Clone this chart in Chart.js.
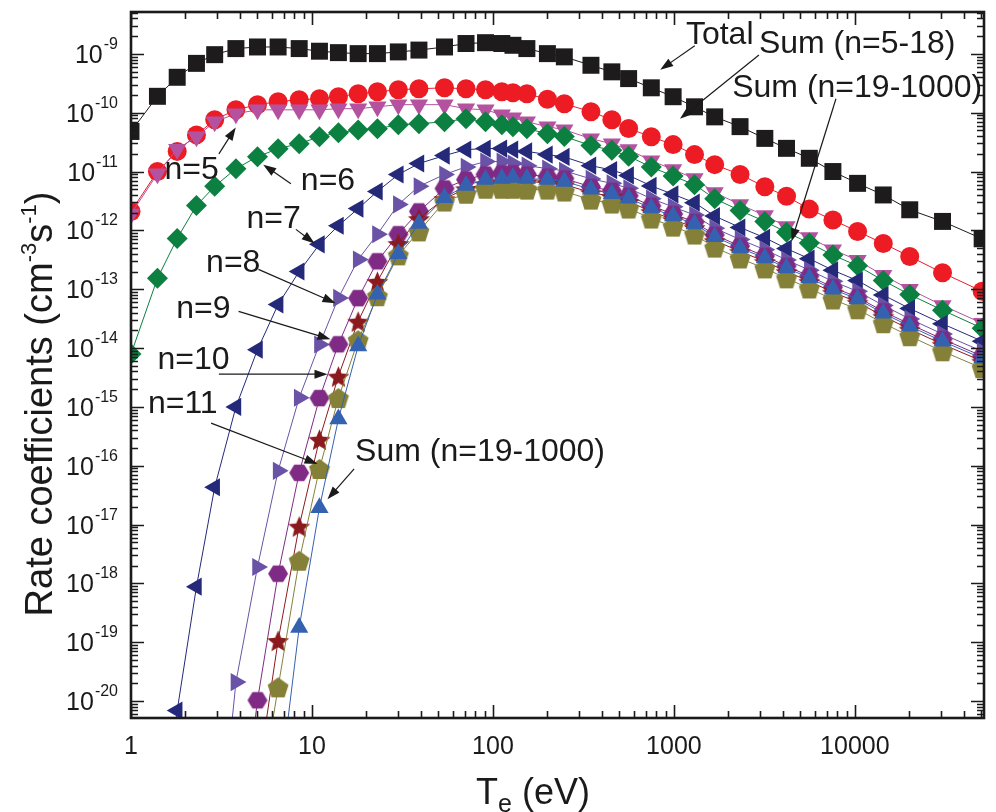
<!DOCTYPE html>
<html>
<head>
<meta charset="utf-8">
<title>Rate coefficients</title>
<script src="https://cdn.jsdelivr.net/npm/chart.js@4.4.1/dist/chart.umd.min.js"></script>
<style>
  html, body { margin: 0; padding: 0; background: #fff; }
  #wrap { width: 996px; height: 812px; }
</style>
</head>
<body>
<div id="wrap"><canvas id="rateChart" width="996" height="812"></canvas></div>
<script>
// electron temperature grid (eV)
const TE = [1, 1.4, 1.8, 2.3, 2.9, 3.8, 5, 6.5, 8.5, 11, 14, 18, 23, 30, 39, 54, 71, 91, 112, 129,
  154, 200, 248, 348, 454, 562, 750, 990, 1300, 1680, 2320, 3180, 4190, 5600, 7560, 10350, 14350, 20100, 30500, 50500];

// rate coefficients (cm^3 s^-1), one entry per TE point
const total = [4.8e-11, 1.9e-10, 4.0e-10, 6.9e-10, 9.7e-10, 1.23e-9, 1.31e-9, 1.31e-9, 1.23e-9, 1.11e-9,
  1.05e-9, 1.01e-9, 1.01e-9, 1.08e-9, 1.16e-9, 1.31e-9, 1.5e-9, 1.55e-9, 1.5e-9, 1.4e-9,
  1.23e-9, 1.01e-9, 8.9e-10, 6.4e-10, 4.95e-10, 3.8e-10, 2.65e-10, 1.87e-10, 1.26e-10, 8.5e-11,
  5.8e-11, 3.66e-11, 2.48e-11, 1.68e-11, 1.0e-11, 6.3e-12, 4.0e-12, 2.24e-12, 1.42e-12, 7.2e-13];
const sum5to18 = [2.1e-12, 1.0e-11, 2.2e-11, 4.2e-11, 7.6e-11, 1.12e-10, 1.37e-10, 1.54e-10, 1.66e-10, 1.73e-10,
  1.87e-10, 2.1e-10, 2.27e-10, 2.46e-10, 2.55e-10, 2.65e-10, 2.55e-10, 2.46e-10, 2.27e-10, 2.18e-10,
  2.1e-10, 1.69e-10, 1.42e-10, 1.04e-10, 7.6e-11, 5.4e-11, 3.9e-11, 2.87e-11, 1.94e-11, 1.31e-11,
  8.9e-12, 5.5e-12, 3.8e-12, 2.3e-12, 1.5e-12, 9.6e-13, 6.0e-13, 3.6e-13, 1.9e-13, 9.2e-14];
const n5 = [1.9e-12, 9.2e-12, 2.4e-11, 3.9e-11, 7.0e-11, 9.6e-11, 1.12e-10, 1.12e-10, 1.12e-10, 1.12e-10,
  1.17e-10, 1.17e-10, 1.26e-10, 1.37e-10, 1.37e-10, 1.37e-10, 1.17e-10, 1.12e-10, 9.25e-11, 8.2e-11,
  7.0e-11, 5.8e-11, 5.14e-11, 3.61e-11, 2.97e-11, 2.36e-11, 1.53e-11, 1.08e-11, 7.6e-12, 4.4e-12,
  2.75e-12, 1.79e-12, 1.16e-12, 7.6e-13, 4.7e-13, 3.1e-13, 1.72e-13, 9.95e-14, 5.3e-14, 2.64e-14];
const n6 = [7.9e-15, 1.53e-13, 7.3e-13, 2.64e-12, 5.6e-12, 1.12e-11, 1.79e-11, 2.45e-11, 2.98e-11, 3.9e-11,
  4.57e-11, 5.1e-11, 5.35e-11, 6.25e-11, 6.5e-11, 7.0e-11, 7.9e-11, 7.0e-11, 6.25e-11, 5.8e-11,
  5.35e-11, 4.41e-11, 3.93e-11, 2.77e-11, 2.29e-11, 1.82e-11, 1.19e-11, 8.4e-12, 5.97e-12, 3.46e-12,
  2.17e-12, 1.42e-12, 9.3e-13, 6.1e-13, 3.8e-13, 2.5e-13, 1.4e-13, 8.1e-14, 4.4e-14, 2.17e-14];
const n7 = [null, 2e-23, 6.9e-21, 8.8e-19, 4.3e-17, 1.0e-15, 9.4e-15, 5.5e-14, 2.0e-13, 5.8e-13,
  1.2e-12, 2.35e-12, 4.6e-12, 8.9e-12, 1.37e-11, 1.87e-11, 2.36e-11, 2.46e-11, 2.46e-11, 2.36e-11,
  2.2e-11, 1.94e-11, 1.77e-11, 1.26e-11, 1.06e-11, 8.6e-12, 5.7e-12, 4.1e-12, 2.96e-12, 1.75e-12,
  1.12e-12, 7.5e-13, 4.9e-13, 3.3e-13, 2.1e-13, 1.4e-13, 7.96e-14, 4.7e-14, 2.58e-14, 1.31e-14];
const n8 = [null, null, null, null, 5e-24, 2.1e-20, 1.9e-18, 8.2e-17, 1.43e-15, 1.15e-14,
  7.1e-14, 3.2e-13, 8.6e-13, 2.76e-12, 5.6e-12, 8.9e-12, 1.2e-11, 1.48e-11, 1.48e-11, 1.37e-11,
  1.26e-11, 1.12e-11, 1.03e-11, 7.5e-12, 6.3e-12, 5.2e-12, 3.46e-12, 2.51e-12, 1.82e-12, 1.09e-12,
  7.0e-13, 4.7e-13, 3.15e-13, 2.11e-13, 1.36e-13, 9.2e-14, 5.3e-14, 3.13e-14, 1.73e-14, 8.8e-15];
const n9 = [null, null, null, null, null, 1e-23, 1.03e-20, 1.46e-18, 7.56e-17, 1.41e-15,
  1.16e-14, 7.05e-14, 2.98e-13, 8.6e-13, 2.1e-12, 5.15e-12, 7.3e-12, 8.9e-12, 9.3e-12, 9.3e-12,
  8.9e-12, 8.2e-12, 7.6e-12, 5.5e-12, 4.7e-12, 3.87e-12, 2.61e-12, 1.9e-12, 1.39e-12, 8.4e-13,
  5.4e-13, 3.66e-13, 2.47e-13, 1.67e-13, 1.08e-13, 7.3e-14, 4.2e-14, 2.55e-14, 1.42e-14, 7.3e-15];
const n10 = [null, null, null, null, null, null, 4.6e-22, 1.07e-19, 9.4e-18, 2.81e-16,
  3.33e-15, 2.86e-14, 1.36e-13, 6.0e-13, 1.59e-12, 3.47e-12, 5.1e-12, 6.2e-12, 6.7e-12, 7.0e-12,
  6.7e-12, 6.5e-12, 6.0e-12, 4.4e-12, 3.76e-12, 3.1e-12, 2.09e-12, 1.53e-12, 1.12e-12, 6.7e-13,
  4.4e-13, 2.97e-13, 2.0e-13, 1.36e-13, 8.9e-14, 6.0e-14, 3.47e-14, 2.09e-14, 1.16e-14, 5.98e-15];
const n11 = [null, null, null, null, null, null, 1.2e-22, 1.71e-20, 2.43e-18, 8.8e-17,
  1.41e-15, 1.36e-14, 7.6e-14, 3.76e-13, 9.6e-13, 3.09e-12, 4.2e-12, 5.1e-12, 5.1e-12, 5.1e-12,
  4.94e-12, 4.94e-12, 4.57e-12, 3.34e-12, 2.86e-12, 2.35e-12, 1.59e-12, 1.16e-12, 8.5e-13, 5.1e-13,
  3.33e-13, 2.26e-13, 1.53e-13, 1.03e-13, 6.7e-14, 4.56e-14, 2.64e-14, 1.59e-14, 8.8e-15, 4.55e-15];
const sum19to1000 = [null, null, null, null, null, null, null, 2.1e-22, 1.78e-19, 1.93e-17,
  6.2e-16, 1.08e-14, 8.2e-14, 4.0e-13, 1.31e-12, 3.6e-12, 5.8e-12, 7.3e-12, 7.6e-12, 7.9e-12,
  7.6e-12, 7.3e-12, 6.8e-12, 5.0e-12, 4.2e-12, 3.5e-12, 2.4e-12, 1.75e-12, 1.28e-12, 7.8e-13,
  5.0e-13, 3.4e-13, 2.3e-13, 1.55e-13, 1.0e-13, 6.8e-14, 3.9e-14, 2.35e-14, 1.3e-14, 6.7e-15];

// axis ranges and tick labels
const X_RANGE = [1, 51700];
const Y_RANGE = [5.15e-21, 5.15e-9];
const X_TICK_LABELS = ['1', '10', '100', '1000', '10000'];
const Y_TICK_EXPONENTS = [-9, -10, -11, -12, -13, -14, -15, -16, -17, -18, -19, -20];

// labels with arrows, in data coordinates: [T_e, rate]
const notes = [
  { text: 'Total', at: [1165, 1.48e-9], from: [1304, 1.37e-9], to: [840, 5.36e-10] },
  { text: 'Sum (n=5-18)', at: [2950, 1.04e-9], from: [2950, 9.6e-10], to: [1080, 7.9e-11] },
  { text: 'Sum (n=19-1000)', at: [2100, 1.87e-10], from: [7860, 1.73e-10], to: [4465, 6.5e-13] },
  { text: 'n=5', at: [1.53, 7.6e-12], from: [3.06, 2.0e-11], to: [3.79, 5.6e-11] },
  { text: 'n=6', at: [8.68, 4.94e-12], from: [7.65, 6.2e-12], to: [5.38, 1.31e-11] },
  { text: 'n=7', at: [4.35, 1.08e-12], from: [8.15, 1.04e-12], to: [10.35, 6.0e-13] },
  { text: 'n=8', at: [2.6, 2.0e-13], from: [5.06, 2.17e-13], to: [13.5, 5.8e-14] },
  { text: 'n=9', at: [1.78, 3.2e-14], from: [3.93, 4.2e-14], to: [12.65, 1.41e-14] },
  { text: 'n=10', at: [1.4, 4.4e-15], from: [3.06, 3.6e-15], to: [12.18, 3.6e-15] },
  { text: 'n=11', at: [1.24, 7.9e-16], from: [2.77, 5.3e-16], to: [10.74, 1.07e-16] },
  { text: 'Sum (n=19-1000)', at: [17.3, 1.2e-16], from: [17.1, 8.8e-17], to: [12.18, 2.7e-17] }
];

const FONT = "'Liberation Sans', Arial, Helvetica, sans-serif";

// filled polygon markers that Chart.js has no built-in style for
function polyMarker(kind, radius, color) {
  const size = Math.ceil(radius * 2 + 2);
  const c = document.createElement('canvas');
  c.width = size;
  c.height = size;
  const g = c.getContext('2d');
  const cx = size / 2, cy = size / 2;
  g.fillStyle = color;
  g.beginPath();
  if (kind === 'hexagon') {
    for (let i = 0; i < 6; i++) {
      const a = Math.PI / 3 * i;
      g.lineTo(cx + radius * Math.cos(a), cy + radius * 0.95 * Math.sin(a));
    }
  } else if (kind === 'pentagon') {
    for (let i = 0; i < 5; i++) {
      const a = -Math.PI / 2 + 2 * Math.PI / 5 * i;
      g.lineTo(cx + radius * Math.cos(a), cy + 1 + radius * Math.sin(a));
    }
  } else {
    for (let i = 0; i < 10; i++) {
      const a = -Math.PI / 2 + Math.PI / 5 * i;
      const r = i % 2 ? radius * 0.45 : radius;
      g.lineTo(cx + r * Math.cos(a), cy + 1.5 + r * Math.sin(a));
    }
  }
  g.closePath();
  g.fill();
  return c;
}

const series = [
  { label: 'Total', data: total, color: '#1d1b1c', style: 'rect', radius: 12 },
  { label: 'Sum (n=5-18)', data: sum5to18, color: '#ed1c24', style: 'circle', radius: 9.5 },
  { label: 'n=5', data: n5, color: '#b5529f', style: 'triangle', rotation: 180, radius: 10.5 },
  { label: 'n=6', data: n6, color: '#0b8040', style: 'rectRot', radius: 10.5 },
  { label: 'n=7', data: n7, color: '#24297a', style: 'triangle', rotation: -90, radius: 10.5 },
  { label: 'n=8', data: n8, color: '#6a53a6', style: 'triangle', rotation: 90, radius: 10.5 },
  { label: 'n=9', data: n9, color: '#7f2a84', style: polyMarker('hexagon', 10, '#7f2a84'), radius: 10 },
  { label: 'n=10', data: n10, color: '#8b1a1f', style: polyMarker('star', 11.5, '#8b1a1f'), radius: 10 },
  { label: 'n=11', data: n11, color: '#858038', style: polyMarker('pentagon', 11, '#858038'), radius: 10 },
  { label: 'Sum (n=19-1000)', data: sum19to1000, color: '#3461b0', style: 'triangle', radius: 10.5 }
];

const datasets = series.map((s, i) => ({
  label: s.label,
  data: TE.map((t, k) => ({ x: t, y: s.data[k] })),
  borderColor: s.color,
  backgroundColor: s.color,
  borderWidth: 1,
  pointStyle: s.style,
  pointRotation: s.rotation || 0,
  pointRadius: s.radius,
  pointBackgroundColor: s.color,
  pointBorderWidth: 0,
  tension: 0,
  clip: 0,
  order: series.length - i
}));

function logTicks(min, max) {
  const out = [];
  for (let k = Math.floor(Math.log10(min)); k <= Math.ceil(Math.log10(max)); k++) {
    for (let m = 1; m <= 9; m++) {
      const v = m * Math.pow(10, k);
      if (v >= min && v <= max) out.push({ v, major: m === 1 });
    }
  }
  return out;
}

function arrow(ctx, x1, y1, x2, y2) {
  const ang = Math.atan2(y2 - y1, x2 - x1);
  const len = 13, half = 4.5;
  const cos = Math.cos(ang), sin = Math.sin(ang);
  ctx.beginPath();
  ctx.moveTo(x1, y1);
  ctx.lineTo(x2 - cos * len * 0.7, y2 - sin * len * 0.7);
  ctx.stroke();
  ctx.beginPath();
  ctx.moveTo(x2, y2);
  ctx.lineTo(x2 - len * cos + half * sin, y2 - len * sin - half * cos);
  ctx.lineTo(x2 - len * cos - half * sin, y2 - len * sin + half * cos);
  ctx.closePath();
  ctx.fill();
}

// frame, inward ticks on all four sides, tick labels, axis titles and labels
const axesFrame = {
  id: 'axesFrame',
  afterDatasetsDraw(chart) {
    const { ctx, chartArea: a } = chart;
    const xs = chart.scales.x, ys = chart.scales.y;
    ctx.save();
    ctx.strokeStyle = '#1a1a1a';
    ctx.fillStyle = '#1a1a1a';

    ctx.lineWidth = 1.6;
    ctx.beginPath();
    logTicks(X_RANGE[0], X_RANGE[1]).forEach(t => {
      const px = Math.round(xs.getPixelForValue(t.v)) + 0.5;
      const len = t.major ? 13 : 7;
      ctx.moveTo(px, a.bottom); ctx.lineTo(px, a.bottom - len);
      ctx.moveTo(px, a.top); ctx.lineTo(px, a.top + len);
    });
    logTicks(Y_RANGE[0], Y_RANGE[1]).forEach(t => {
      const py = Math.round(ys.getPixelForValue(t.v)) + 0.5;
      const len = t.major ? 13 : 7;
      ctx.moveTo(a.left, py); ctx.lineTo(a.left + len, py);
      ctx.moveTo(a.right, py); ctx.lineTo(a.right - len, py);
    });
    ctx.stroke();

    ctx.lineWidth = 2.6;
    ctx.strokeRect(a.left, a.top, a.right - a.left, a.bottom - a.top);

    // x tick labels
    ctx.font = '25px ' + FONT;
    ctx.textAlign = 'center';
    ctx.textBaseline = 'alphabetic';
    X_TICK_LABELS.forEach(s => {
      ctx.fillText(s, xs.getPixelForValue(Number(s)), a.bottom + 36);
    });

    // y tick labels as 10 with a raised exponent
    Y_TICK_EXPONENTS.forEach(e => {
      const py = ys.getPixelForValue(Math.pow(10, e));
      ctx.font = '16px ' + FONT;
      const ex = String(e);
      const ew = ctx.measureText(ex).width;
      const exRight = a.left - 13;
      ctx.textAlign = 'left';
      ctx.fillText(ex, exRight - ew, py - 5);
      ctx.font = '25px ' + FONT;
      ctx.textAlign = 'right';
      ctx.fillText('10', exRight - ew - 1, py + 9);
    });

    // x title: T_e (eV)
    ctx.textAlign = 'left';
    ctx.font = '36px ' + FONT;
    const tW = ctx.measureText('T').width;
    ctx.font = '25px ' + FONT;
    const eW = ctx.measureText('e').width;
    ctx.font = '36px ' + FONT;
    const restW = ctx.measureText(' (eV)').width;
    let tx = 533 - (tW + eW + restW) / 2;
    const tyBase = 804;
    ctx.fillText('T', tx, tyBase);
    tx += tW;
    ctx.font = '25px ' + FONT;
    ctx.fillText('e', tx, tyBase + 8);
    tx += eW;
    ctx.font = '36px ' + FONT;
    ctx.fillText(' (eV)', tx, tyBase);

    // y title, rotated, with superscript units
    const parts = [
      ['Rate coefficients (cm', 38, 0],
      ['-3', 22, -16],
      ['s', 38, 0],
      ['-1', 22, -16],
      [')', 38, 0]
    ];
    let total = 0;
    parts.forEach(p => { ctx.font = p[1] + 'px ' + FONT; total += ctx.measureText(p[0]).width; });
    ctx.translate(52, 404);
    ctx.rotate(-Math.PI / 2);
    let px = -total / 2;
    parts.forEach(p => {
      ctx.font = p[1] + 'px ' + FONT;
      ctx.fillText(p[0], px, p[2]);
      px += ctx.measureText(p[0]).width;
    });
    ctx.restore();

    // curve labels with arrows
    ctx.save();
    ctx.fillStyle = '#1a1a1a';
    ctx.strokeStyle = '#1a1a1a';
    ctx.lineWidth = 1.2;
    ctx.font = '32px ' + FONT;
    ctx.textAlign = 'left';
    notes.forEach(n => {
      ctx.fillText(n.text, xs.getPixelForValue(n.at[0]), ys.getPixelForValue(n.at[1]));
      arrow(ctx,
        xs.getPixelForValue(n.from[0]), ys.getPixelForValue(n.from[1]),
        xs.getPixelForValue(n.to[0]), ys.getPixelForValue(n.to[1]));
    });
    ctx.restore();
  }
};

new Chart(document.getElementById('rateChart'), {
  type: 'line',
  data: { datasets },
  options: {
    responsive: false,
    animation: false,
    devicePixelRatio: 1,
    layout: { padding: { left: 131, right: 1, top: 10, bottom: 94 } },
    plugins: { legend: { display: false }, tooltip: { enabled: false } },
    scales: {
      x: { type: 'logarithmic', min: X_RANGE[0], max: X_RANGE[1], display: false },
      y: { type: 'logarithmic', min: Y_RANGE[0], max: Y_RANGE[1], display: false }
    }
  },
  plugins: [axesFrame]
});
</script>
</body>
</html>
